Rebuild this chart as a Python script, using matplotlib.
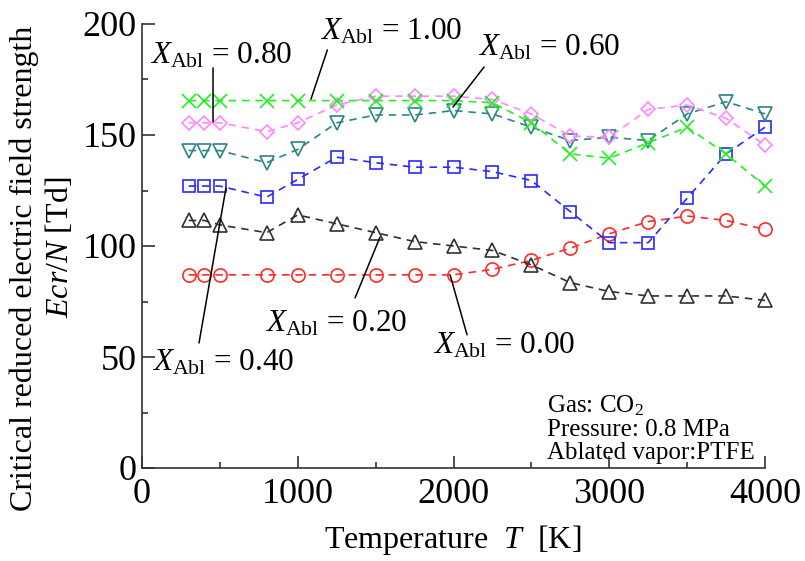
import matplotlib
matplotlib.use("Agg")
import matplotlib.pyplot as plt
from matplotlib.ticker import MultipleLocator

plt.rcParams['font.family'] = ['Liberation Serif', 'DejaVu Serif']
plt.rcParams['mathtext.fontset'] = 'custom'
plt.rcParams['mathtext.rm'] = 'Liberation Serif'
plt.rcParams['mathtext.it'] = 'Liberation Serif:italic'
plt.rcParams['mathtext.bf'] = 'Liberation Serif:bold'

# ---- data ----
temperature = [300, 400, 500, 800, 1000, 1250, 1500, 1750, 2000, 2250, 2500,
               2750, 3000, 3250, 3500, 3750, 4000]
x_000 = [87, 87, 87, 87, 87, 87, 87, 87, 87, 89.5, 93.5, 99, 105.5, 111, 113.5, 111.5, 107.5]
x_020 = [111.5, 111.5, 109.5, 106, 114, 110, 106, 102, 100, 98, 91.5, 83.5, 79.5, 77.5, 77.5, 77.5, 75.5]
x_040 = [127, 127, 127, 122, 130, 140, 137.5, 135.5, 135.5, 133.5, 129.5, 115.5, 101.5, 101.5, 121.5, 141.5, 153.5]
x_060 = [143, 143, 143, 137.5, 143.5, 155.5, 159, 159, 161, 159.5, 153.5, 147.5, 149, 147.5, 159.5, 165, 159.5]
x_080 = [155.5, 155.5, 155.5, 151.5, 155.5, 163.5, 167.5, 167.5, 167.5, 166, 159.5, 149.5, 149, 161.5, 163.5, 157.5, 145.5]
x_100 = [165.5, 165.5, 165.5, 165.5, 165.5, 165.5, 165.5, 165.5, 165.5, 164.5, 155.5, 141.5, 139.5, 146.5, 153.5, 141.5, 127]

series = [
    (x_000, '#ff2a2a', 'o', 9.5),
    (x_020, '#303030', '^', 10.5),
    (x_040, '#2a2aff', 's', 8.8),
    (x_060, '#2a8585', 'v', 10.5),
    (x_080, '#ff88ff', 'D', 7.5),
    (x_100, '#22ee22', 'x', 10.5),
]

fig = plt.figure(figsize=(8.05, 5.61), dpi=100)
ax = fig.add_axes([142/805, 1-468/561, (765-142)/805, (468-24)/561])

for vals, col, mk, ms in series:
    ax.plot(temperature, vals, linestyle=(0, (4.5, 3.5)), color=col, lw=1.2,
            marker=mk, markersize=ms, markerfacecolor='none',
            markeredgecolor=col, markeredgewidth=1.2, clip_on=False)

ax.set_xlim(0, 4000)
ax.set_ylim(0, 200)
ax.xaxis.set_major_locator(MultipleLocator(1000))
ax.xaxis.set_minor_locator(MultipleLocator(500))
ax.yaxis.set_major_locator(MultipleLocator(50))
ax.yaxis.set_minor_locator(MultipleLocator(25))
for s in ['top', 'right']:
    ax.spines[s].set_visible(False)
for s in ['left', 'bottom']:
    ax.spines[s].set_linewidth(1.2)
    ax.spines[s].set_color('#333333')
ax.tick_params(which='major', direction='in', length=9, width=1.2, color='#333333',
               labelsize=26, pad=4)
ax.tick_params(axis='x', which='major', pad=7)
ax.tick_params(which='minor', direction='in', length=4.5, width=1.2, color='#333333')

# axis labels
fig.text(24/805, 1-268/561, 'Critical reduced electric field strength', rotation=90,
         ha='center', va='center', fontsize=23)
fig.text(60/805, 1-247/561, '$Ecr/N$ [Td]', rotation=90,
         ha='center', va='center', fontsize=23)
fig.text(453/805, 1-540/561, 'Temperature  $T$  [K]', ha='center', va='center', fontsize=23)

# annotations (label text, text position, leader line start, leader line end)
labels = [
    (r'$X_{\rm Abl}$ = 0.80', (51, 182.4), (456, 180.2), (456, 155.9)),
    (r'$X_{\rm Abl}$ = 1.00', (1143, 192.8), (1190, 188.3), (1085, 166.2)),
    (r'$X_{\rm Abl}$ = 0.60', (2157, 186), (2196, 180.6), (1997, 162.6)),
    (r'$X_{\rm Abl}$ = 0.40', (64, 44.1), (366, 56.3), (539, 126.1)),
    (r'$X_{\rm Abl}$ = 0.20', (790, 61.3), (1368, 76.6), (1528, 104)),
    (r'$X_{\rm Abl}$ = 0.00', (1868, 51.8), (2087, 60), (1978, 87)),
]
for txt, pos, p0, p1 in labels:
    ax.text(pos[0], pos[1], txt, fontsize=22.5, ha='left', va='baseline')
    ax.annotate('', xy=p1, xytext=p0,
                arrowprops=dict(arrowstyle='-', color='black', lw=1.1,
                                shrinkA=0, shrinkB=0))

ax.text(2600, 25.2, 'Gas: CO$_2$', fontsize=18, ha='left', va='baseline')
ax.text(2600, 14.6, 'Pressure: 0.8 MPa', fontsize=18, ha='left', va='baseline')
ax.text(2600, 4.0, 'Ablated vapor:PTFE', fontsize=18, ha='left', va='baseline')

fig.savefig('out.png', dpi=100)
